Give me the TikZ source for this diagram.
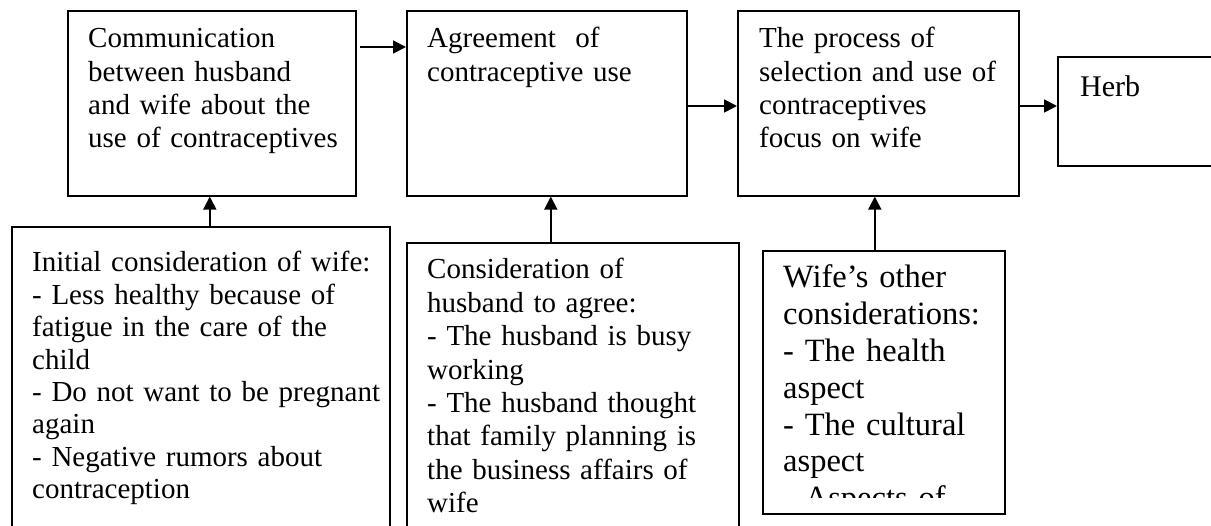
\documentclass[tikz,border=0pt]{standalone}
\usepackage{fontspec}
\setmainfont{Liberation Serif}
\usetikzlibrary{arrows.meta}
\tikzset{
  box/.style={draw=black, line width=1.6pt, anchor=north west, inner sep=0pt},
  txt/.style={anchor=base west, inner sep=0pt, text width=420pt, align=left,
    font=\fontsize{29pt}{33.3pt}\selectfont},
  txtbig/.style={txt, font=\fontsize{32.5pt}{36.8pt}\selectfont},
  arr/.style={line width=1.8pt, -{Triangle[length=13pt,width=13pt]}}
}
\begin{document}
\begin{tikzpicture}[x=1pt,y=-1pt]
\useasboundingbox (0,0) rectangle (1211,526);
\fill[white] (0,0) rectangle (1211,526);
\clip (0,0) rectangle (1211,526);

% top row boxes
\node[box, minimum width=288pt, minimum height=185pt] (b1) at (67,10) {};
\node[box, minimum width=280pt, minimum height=185pt] (b2) at (406,10) {};
\node[box, minimum width=281pt, minimum height=185pt] (b3) at (737,10) {};
\node[box, minimum width=170pt, minimum height=109pt] (b4) at (1057,56) {};

\node[txt] (t1) at (88,48) {Communication\\between husband\\and wife about the\\use of contraceptives};
\node[txt] (t2) at (427,48) {Agreement~~of\\contraceptive use};
\node[txt] (t3) at (759,48) {The process of\\selection and use of\\contraceptives\\focus on wife};
\node[txt, font=\fontsize{30pt}{34pt}\selectfont] (t4) at (1080,97) {Herb};

% bottom row boxes
\node[box, minimum width=378pt, minimum height=340pt] (b5) at (11,226) {};
\node[box, minimum width=332pt, minimum height=330pt] (b6) at (406,242) {};

\node[txt, font=\fontsize{29pt}{32.4pt}\selectfont] (t5) at (32,272) {Initial consideration of wife:\\- Less healthy because of\\fatigue in the care of the\\child\\- Do not want to be pregnant\\again\\- Negative rumors about\\contraception};
\node[txt, font=\fontsize{29pt}{33.4pt}\selectfont] (t6) at (427,279) {Consideration of\\husband to agree:\\- The husband is busy\\working\\- The husband thought\\that family planning is\\the business affairs of\\wife};

\begin{scope}
  \clip (762,250) rectangle (1004,498);
  \node[txtbig] (t7) at (783,288) {Wife’s other\\considerations:\\- The health\\aspect\\- The cultural\\aspect\\- Aspects of};
\end{scope}
\node[box, minimum width=242pt, minimum height=263pt] (b7) at (762,250) {};

% connectors
\draw[arr] ([xshift=3pt,yshift=-37pt]b1.north east) -- ([yshift=-37pt]b2.north west);
\draw[arr] ([yshift=-96pt]b2.north east) -- ([yshift=-96pt]b3.north west);
\draw[arr] ([yshift=-96pt]b3.north east) -- ([yshift=-50pt]b4.north west);
\draw[arr] ([xshift=-2pt]b1.south |- b5.north) -- ([xshift=-2pt]b1.south);
\draw[arr] ([xshift=4pt]b2.south |- b6.north) -- ([xshift=4pt]b2.south);
\draw[arr] ([xshift=-3.5pt]b3.south |- b7.north) -- ([xshift=-3.5pt]b3.south);
\end{tikzpicture}
\end{document}
